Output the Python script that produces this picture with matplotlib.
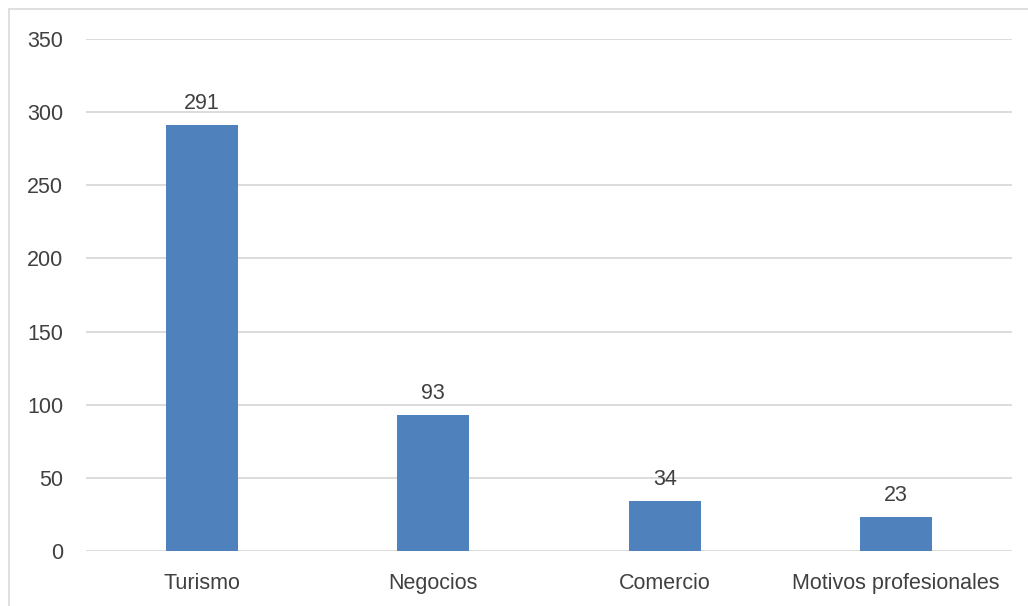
import matplotlib.pyplot as plt
from matplotlib.patches import Rectangle

categories = ["Turismo", "Negocios", "Comercio", "Motivos profesionales"]
values = [291, 93, 34, 23]
yticks = [0, 50, 100, 150, 200, 250, 300, 350]

plt.rcParams['font.family'] = ['Liberation Sans', 'DejaVu Sans']
text_col = "#404040"

fig = plt.figure(figsize=(10.28, 6.06), dpi=100)
ax = fig.add_axes([86 / 1028, 1 - 551 / 606, 926 / 1028, 512 / 606])

# outer chart frame (only left and top edges fall inside the image)
fig.patches.append(Rectangle((9 / 1028, -0.2), 1.2, 1.2 - 9 / 606,
                             transform=fig.transFigure, fill=False,
                             edgecolor="#D9D9D9", linewidth=1.2))

x = list(range(len(categories)))
bars = ax.bar(x, values, width=0.31, color="#4F81BD", zorder=3)
ax.bar_label(bars, labels=[str(v) for v in values], padding=8,
             fontsize=15.5, color=text_col)

ax.set_xlim(-0.5, len(categories) - 0.5)
ax.set_ylim(0, 350)
ax.set_yticks(yticks)
ax.set_xticks(x)
ax.set_xticklabels(categories)
ax.tick_params(axis="y", length=0, pad=16.5, labelsize=15.5, labelcolor=text_col)
ax.tick_params(axis="x", length=0, pad=16, labelsize=15.5, labelcolor=text_col)

ax.grid(axis="y", color="#D9D9D9", linewidth=1.3, zorder=0)
for s in ax.spines.values():
    s.set_visible(False)

fig.savefig("out.png", dpi=100)
